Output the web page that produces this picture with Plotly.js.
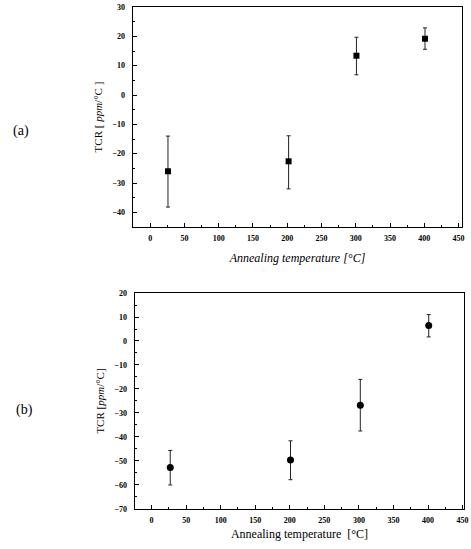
<!DOCTYPE html>
<html>
<head>
<meta charset="utf-8">
<script src="https://cdn.plot.ly/plotly-3.0.1.min.js"></script>
<style>html,body{margin:0;padding:0;background:#fff;}#chart{width:471px;height:549px;}</style>
</head>
<body>
<div id="chart"></div>
<script>
// Panel (a)
const tempA = [26, 202, 301, 401];
const tcrA = [-26, -22.6, 13.4, 19.2];
const errPlusA = [12, 8.7, 6.3, 3.7];
const errMinusA = [12.2, 9.4, 6.5, 3.6];
// Panel (b)
const tempB = [27, 201, 302, 401];
const tcrB = [-52.7, -49.6, -26.8, 6.5];
const errPlusB = [7.1, 8.0, 10.8, 4.5];
const errMinusB = [7.3, 8.2, 10.7, 4.8];

const xTitleA = 'Annealing temperature [°C]';
const xTitleB = 'Annealing temperature  [°C]';
const yTitleA = 'TCR [ <i>ppm</i>/°C ]';
const yTitleB = 'TCR [<i>ppm</i>/°C]';

const serif = '"Liberation Serif", "DejaVu Serif", serif';

const traces = [
  {
    x: tempA, y: tcrA, type: 'scatter', mode: 'markers',
    xaxis: 'x', yaxis: 'y',
    marker: {symbol: 'square', size: 6, color: '#000'},
    error_y: {type: 'data', symmetric: false, array: errPlusA, arrayminus: errMinusA,
              color: '#222', thickness: 1, width: 2}
  },
  {
    x: tempB, y: tcrB, type: 'scatter', mode: 'markers',
    xaxis: 'x2', yaxis: 'y2',
    marker: {symbol: 'circle', size: 7, color: '#000'},
    error_y: {type: 'data', symmetric: false, array: errPlusB, arrayminus: errMinusB,
              color: '#222', thickness: 1, width: 2}
  }
];

function xax(domain, range, anchor, title, italic, standoff) {
  return {
    domain: domain, range: range, anchor: anchor,
    showline: true, mirror: true, linecolor: '#000', linewidth: 1.3,
    showgrid: false, zeroline: false,
    ticks: 'inside', ticklen: 4, tickwidth: 1, tickcolor: '#000',
    tickmode: 'linear', tick0: 0, dtick: 50,
    minor: {ticks: 'inside', ticklen: 2, dtick: 25, tickcolor: '#000', tickwidth: 1},
    tickfont: {family: serif, size: 8, color: '#000', weight: 'bold'},
    ticklabelstandoff: 3,
    title: {text: italic ? '<i>' + title + '</i>' : title,
            font: {family: serif, size: 12, color: '#000'}, standoff: standoff}
  };
}
function yax(domain, range, anchor, title) {
  return {
    domain: domain, range: range, anchor: anchor,
    showline: true, mirror: true, linecolor: '#000', linewidth: 1.3,
    showgrid: false, zeroline: false,
    ticks: 'inside', ticklen: 4, tickwidth: 1, tickcolor: '#000',
    tickmode: 'linear', tick0: 0, dtick: 10,
    minor: {ticks: 'inside', ticklen: 2, dtick: 5, tickcolor: '#000', tickwidth: 1},
    tickfont: {family: serif, size: 8, color: '#000', weight: 'bold'},
    ticklabelstandoff: 5,
    title: {text: title, font: {family: serif, size: 11, color: '#000'}, standoff: 7}
  };
}

const layout = {
  width: 471, height: 549,
  margin: {l: 0, r: 0, t: 0, b: 0},
  paper_bgcolor: '#fff', plot_bgcolor: '#fff',
  showlegend: false,
  xaxis: xax([0.2824, 0.9809], [-25, 455], 'y', xTitleA, true, 11),
  yaxis: yax([0.5865, 0.9872], [-45, 30], 'x', yTitleA),
  xaxis2: xax([0.2866, 0.9851], [-24, 452], 'y2', xTitleB, false, 5),
  yaxis2: yax([0.0729, 0.4663], [-70, 20], 'x2', yTitleB),
  annotations: [
    {text: '(a)', xref: 'paper', yref: 'paper', x: 21/471, y: 1 - 131/549,
     xanchor: 'center', yanchor: 'middle',
     showarrow: false, font: {family: serif, size: 14, color: '#000'}},
    {text: '(b)', xref: 'paper', yref: 'paper', x: 24/471, y: 1 - 410/549,
     xanchor: 'center', yanchor: 'middle',
     showarrow: false, font: {family: serif, size: 14, color: '#000'}}
  ]
};

Plotly.newPlot('chart', traces, layout, {displayModeBar: false, staticPlot: true});
</script>
</body>
</html>
